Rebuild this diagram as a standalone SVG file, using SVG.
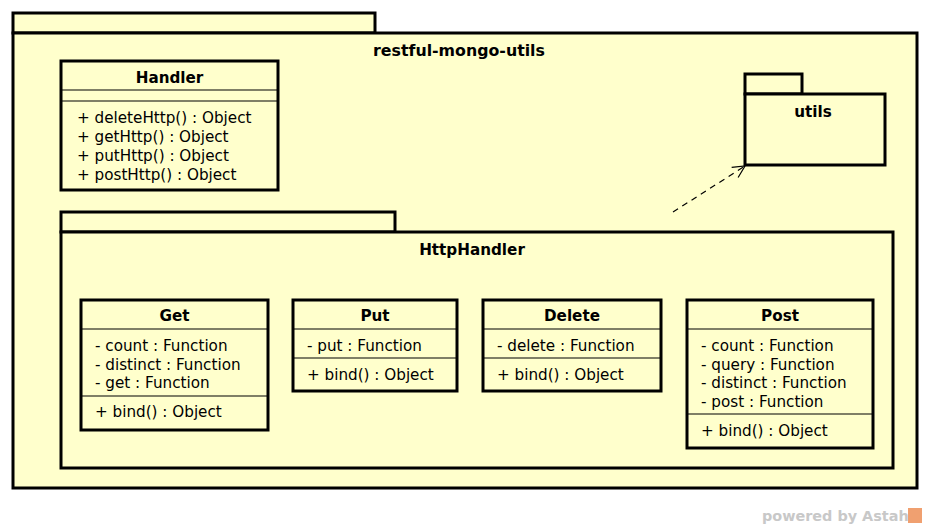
<svg xmlns="http://www.w3.org/2000/svg" width="929" height="528" viewBox="0 0 929 528">
<style>
.box{fill:#ffffcc;stroke:#000;stroke-width:3}
.div{stroke:#000;stroke-width:1.2;fill:none}
.t{font-family:"DejaVu Sans",sans-serif;font-size:15.2px;fill:#000}
.b{font-family:"DejaVu Sans",sans-serif;font-size:15.2px;font-weight:bold;fill:#000;text-anchor:middle}
</style>
<defs>
<marker id="open" markerWidth="14" markerHeight="14" refX="13" refY="7" orient="auto" markerUnits="userSpaceOnUse">
<path d="M1,1 L13,7 L1,13" fill="none" stroke="#000" stroke-width="1.2"/>
</marker>
</defs>
<rect width="929" height="528" fill="#fff"/>
<g id="restful-mongo-utils">
<rect class="box" x="13" y="13" width="362" height="20"/>
<rect class="box" x="13" y="33" width="904" height="455"/>
<text class="b" x="459" y="56" style="font-size:15.8px">restful-mongo-utils</text>
</g>
<g id="Handler">
<rect class="box" x="61" y="61" width="217" height="129"/>
<line class="div" x1="61" y1="90" x2="278" y2="90"/>
<line class="div" x1="61" y1="101" x2="278" y2="101"/>
<text class="b" x="169.5" y="83">Handler</text>
<text class="t" x="77" y="123">+ deleteHttp() : Object</text>
<text class="t" x="77" y="142">+ getHttp() : Object</text>
<text class="t" x="77" y="161">+ putHttp() : Object</text>
<text class="t" x="77" y="179.5">+ postHttp() : Object</text>
</g>
<g id="utils">
<rect class="box" x="745" y="74" width="57" height="20"/>
<rect class="box" x="745" y="94" width="140" height="71"/>
<text class="b" x="813" y="117">utils</text>
</g>
<g id="HttpHandler">
<rect class="box" x="61" y="212" width="334" height="20"/>
<rect class="box" x="61" y="232" width="832" height="236"/>
<text class="b" x="472" y="255">HttpHandler</text>
</g>
<g id="Get">
<rect class="box" x="81" y="300" width="187" height="130"/>
<line class="div" x1="81" y1="329" x2="268" y2="329"/>
<line class="div" x1="81" y1="396" x2="268" y2="396"/>
<text class="b" x="174.5" y="321">Get</text>
<text class="t" x="95" y="351">- count : Function</text>
<text class="t" x="95" y="369.5">- distinct : Function</text>
<text class="t" x="95" y="388">- get : Function</text>
<text class="t" x="95" y="417">+ bind() : Object</text>
</g>
<g id="Put">
<rect class="box" x="293" y="300" width="164" height="91"/>
<line class="div" x1="293" y1="329" x2="457" y2="329"/>
<line class="div" x1="293" y1="358" x2="457" y2="358"/>
<text class="b" x="375" y="321">Put</text>
<text class="t" x="307" y="351">- put : Function</text>
<text class="t" x="307" y="380">+ bind() : Object</text>
</g>
<g id="Delete">
<rect class="box" x="483" y="300" width="178" height="91"/>
<line class="div" x1="483" y1="329" x2="661" y2="329"/>
<line class="div" x1="483" y1="358" x2="661" y2="358"/>
<text class="b" x="572" y="321">Delete</text>
<text class="t" x="497" y="351">- delete : Function</text>
<text class="t" x="497" y="380">+ bind() : Object</text>
</g>
<g id="Post">
<rect class="box" x="687" y="300" width="186" height="148"/>
<line class="div" x1="687" y1="329" x2="873" y2="329"/>
<line class="div" x1="687" y1="414" x2="873" y2="414"/>
<text class="b" x="780" y="321">Post</text>
<text class="t" x="701" y="351">- count : Function</text>
<text class="t" x="701" y="369.5">- query : Function</text>
<text class="t" x="701" y="388">- distinct : Function</text>
<text class="t" x="701" y="407">- post : Function</text>
<text class="t" x="701" y="436">+ bind() : Object</text>
</g>
<g id="connectors">
<line x1="673" y1="212" x2="745" y2="166" stroke="#000" stroke-width="1.2" stroke-dasharray="6,5" marker-end="url(#open)"/>
</g>
<g id="watermark">
<text x="762" y="521" font-family="DejaVu Sans,sans-serif" font-size="14.4px" font-weight="bold" fill="#c8c8c8">powered by Astah</text>
<rect x="908" y="508" width="14" height="15" fill="#f0a070"/>
</g>
</svg>
